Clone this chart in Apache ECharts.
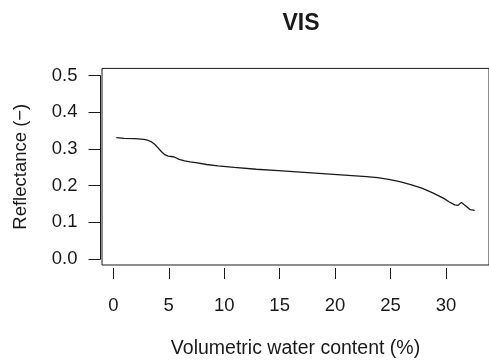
<!DOCTYPE html>
<html>
<head>
<meta charset="utf-8">
<script src="https://cdn.jsdelivr.net/npm/echarts@6/dist/echarts.min.js"></script>
<style>
  html, body { margin: 0; padding: 0; background: #fff; }
  #chart { width: 489px; height: 364px; }
</style>
</head>
<body>
<div id="chart"></div>
<script>
// Volumetric water content (%) and VIS reflectance (-)
var waterContent = [0.3, 1.0, 2.0, 2.8, 3.2, 3.5, 3.8, 4.1, 4.4, 4.7, 5.0, 5.3, 5.6, 6.0, 6.5, 7.0, 7.5, 8.5, 9.5, 11, 13, 15, 17, 19, 21, 23, 24, 25, 26, 27, 28, 29, 30, 30.5, 31.0, 31.3, 31.6, 32.0, 32.4, 32.8];
var reflectance = [0.330, 0.328, 0.327, 0.325, 0.322, 0.318, 0.311, 0.301, 0.291, 0.283, 0.279, 0.278, 0.276, 0.270, 0.266, 0.263, 0.261, 0.256, 0.252, 0.248, 0.243, 0.239, 0.235, 0.231, 0.227, 0.223, 0.220, 0.215, 0.209, 0.201, 0.191, 0.178, 0.163, 0.153, 0.145, 0.144, 0.152, 0.142, 0.132, 0.130];
var xTicks = [0, 5, 10, 15, 20, 25, 30];
var yTicks = [0.0, 0.1, 0.2, 0.3, 0.4, 0.5];

var FONT = '"Liberation Sans", Arial, Helvetica, sans-serif';
var INK = '#1a1a1a';

// Plot range padded by 4% on each side, like a base-graphics plot
var xLo = Math.min.apply(null, waterContent), xHi = Math.max.apply(null, waterContent);
var xPad = (xHi - xLo) * 0.04;
var yLo = yTicks[0], yHi = yTicks[yTicks.length - 1];
var yPad = (yHi - yLo) * 0.04;

var points = waterContent.map(function (x, i) { return [x, reflectance[i]]; });

var chart = echarts.init(document.getElementById('chart'), null, { renderer: 'canvas' });
chart.setOption({
  animation: false,
  backgroundColor: '#ffffff',
  title: {
    text: 'VIS',
    left: 277.5, top: 7,
    textStyle: { fontFamily: FONT, fontSize: 23, fontWeight: 'bold', color: INK }
  },
  grid: [
    // plotting box
    { left: 102, top: 68.4, width: 389.5, height: 197.8, show: true, borderColor: INK, borderWidth: 1, backgroundColor: 'transparent' },
    // y axis spanning the tick range only
    { left: 100.5, top: 75.7, width: 2, height: 183.3 },
    // x axis ticks hanging below the box
    { left: 113.3, top: 200, width: 332.7, height: 68 }
  ],
  xAxis: [
    {
      gridIndex: 0, type: 'value', min: xLo - xPad, max: xHi + xPad,
      axisLine: { show: false }, axisTick: { show: false }, axisLabel: { show: false }, splitLine: { show: false },
      name: 'Volumetric water content (%)', nameLocation: 'middle', nameGap: 74,
      nameTextStyle: { fontFamily: FONT, fontSize: 19.5, color: INK }
    },
    { gridIndex: 1, type: 'value', show: false },
    {
      gridIndex: 2, type: 'value', min: xTicks[0], max: xTicks[xTicks.length - 1], interval: xTicks[1] - xTicks[0],
      axisLine: { show: false },
      axisTick: { show: true, length: 11, lineStyle: { color: INK, width: 1 } },
      axisLabel: { fontFamily: FONT, fontSize: 18.5, color: INK, margin: 28 },
      splitLine: { show: false }
    }
  ],
  yAxis: [
    {
      gridIndex: 0, type: 'value', min: yLo - yPad, max: yHi + yPad,
      axisLine: { show: false }, axisTick: { show: false }, axisLabel: { show: false }, splitLine: { show: false },
      name: 'Reflectance (\u2212)', nameLocation: 'middle', nameGap: 72, nameRotate: 90,
      nameTextStyle: { fontFamily: FONT, fontSize: 18.5, color: INK }
    },
    {
      gridIndex: 1, type: 'value', min: yLo, max: yHi, interval: yTicks[1] - yTicks[0],
      axisLine: { show: true, lineStyle: { color: INK, width: 1 } },
      axisTick: { show: true, length: 12, lineStyle: { color: INK, width: 1 } },
      axisLabel: { fontFamily: FONT, fontSize: 18.5, color: INK, margin: 23, formatter: function (v) { return v.toFixed(1); } },
      splitLine: { show: false }
    },
    { gridIndex: 2, type: 'value', show: false }
  ],
  series: [
    {
      type: 'line', xAxisIndex: 0, yAxisIndex: 0,
      data: points, showSymbol: false, symbol: 'none', smooth: false,
      lineStyle: { color: INK, width: 1.3 }, silent: true, clip: true
    }
  ]
});
</script>
</body>
</html>
